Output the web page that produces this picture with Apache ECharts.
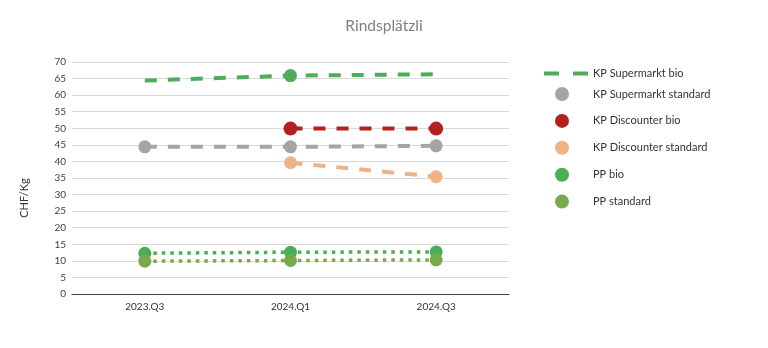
<!DOCTYPE html>
<html>
<head>
<meta charset="utf-8">
<script src="https://cdn.jsdelivr.net/npm/echarts@6/dist/echarts.min.js"></script>
<style>
html,body{margin:0;padding:0;background:#fff;}
#chart{width:768px;height:348px;}
</style>
</head>
<body>
<div id="chart"></div>
<script>
// ---- data ----
var categories = ['2023.Q3', '2024.Q1', '2024.Q3'];
var seriesNames = ['KP Supermarkt bio', 'KP Supermarkt standard', 'KP Discounter bio', 'KP Discounter standard', 'PP bio', 'PP standard'];
var kpSupermarktBio = [64.4, 65.9, 66.3];
var kpSupermarktStandard = [44.4, 44.4, 44.7];
var kpDiscounterBio = [null, 49.9, 49.9];
var kpDiscounterStandard = [null, 39.6, 35.4];
var ppBio = [12.3, 12.6, 12.7];
var ppStandard = [9.9, 10.1, 10.3];
var supBioMarkerAt = [false, true, false];
var yTicks = [0, 5, 10, 15, 20, 25, 30, 35, 40, 45, 50, 55, 60, 65, 70];
var titleText = 'Rindsplätzli';
var yAxisTitle = 'CHF/Kg';

// ---- styles ----
var FONT = 'Lato';
var colors = ['#4eac5b', '#a5a5a5', '#b3211c', '#f0b185', '#4aae56', '#7aa84c'];

function lineSeries(name, data, color, dash, width, symbolSize) {
  return {
    name: name,
    type: 'line',
    data: data,
    symbol: 'circle',
    symbolSize: symbolSize,
    showSymbol: true,
    connectNulls: false,
    itemStyle: { color: color },
    lineStyle: { color: color, width: width, type: dash, cap: 'butt' },
    emphasis: { disabled: true },
    animation: false
  };
}

var supBioData = kpSupermarktBio.map(function (v, i) {
  return { value: v, symbol: supBioMarkerAt[i] ? 'circle' : 'none' };
});

var chart = echarts.init(document.getElementById('chart'), null, { renderer: 'canvas' });
chart.setOption({
  animation: false,
  title: {
    text: titleText,
    left: 'center',
    top: 13,
    textStyle: { fontFamily: FONT, fontSize: 15.5, fontWeight: 'normal', color: '#7f7f7f' }
  },
  grid: { left: 72, right: 259, top: 62, bottom: 54, containLabel: false },
  xAxis: {
    type: 'category',
    data: categories,
    boundaryGap: true,
    axisLine: { lineStyle: { color: '#404040', width: 1.2 } },
    axisTick: { show: false },
    axisLabel: { fontFamily: FONT, fontSize: 10, color: '#333', margin: 8 },
    splitLine: { show: false }
  },
  yAxis: {
    type: 'value',
    min: yTicks[0],
    max: yTicks[yTicks.length - 1],
    interval: 5,
    axisLine: { show: false },
    axisTick: { show: false },
    axisLabel: { fontFamily: FONT, fontSize: 10, color: '#404040', margin: 6 },
    splitLine: { lineStyle: { color: '#d9d9d9', width: 1 } }
  },
  legend: [
    {
      data: [{ name: seriesNames[0], icon: 'path://M0,0H15V4H0Z M29,0H44V4H29Z' }],
      orient: 'vertical',
      left: 539,
      top: 63,
      itemWidth: 44,
      itemHeight: 4,
      selectedMode: false,
      textStyle: { fontFamily: FONT, fontSize: 11, color: '#333' }
    },
    {
      data: seriesNames.slice(1).map(function (n) { return { name: n, icon: 'circle' }; }),
      orient: 'vertical',
      left: 550,
      top: 82,
      itemWidth: 44,
      itemHeight: 14,
      itemGap: 12.9,
      selectedMode: false,
      textStyle: { fontFamily: FONT, fontSize: 11, color: '#333', padding: [0, 0, 0, 4] }
    }
  ],
  graphic: [{
    type: 'text',
    x: 24,
    y: 198,
    rotation: Math.PI / 2,
    style: {
      text: yAxisTitle,
      fontFamily: FONT,
      fontSize: 11,
      fill: '#333',
      align: 'center',
      verticalAlign: 'middle'
    }
  }],
  series: [
    lineSeries(seriesNames[0], supBioData, colors[0], [12, 11], 4, 13),
    lineSeries(seriesNames[1], kpSupermarktStandard, colors[1], [12, 11], 4, 13),
    lineSeries(seriesNames[2], kpDiscounterBio, colors[2], [12, 11], 4, 14),
    lineSeries(seriesNames[3], kpDiscounterStandard, colors[3], [12, 11], 4, 13),
    lineSeries(seriesNames[4], ppBio, colors[4], [3.5, 5], 3.5, 13),
    lineSeries(seriesNames[5], ppStandard, colors[5], [3.5, 5], 3.5, 13)
  ]
});
</script>
</body>
</html>
